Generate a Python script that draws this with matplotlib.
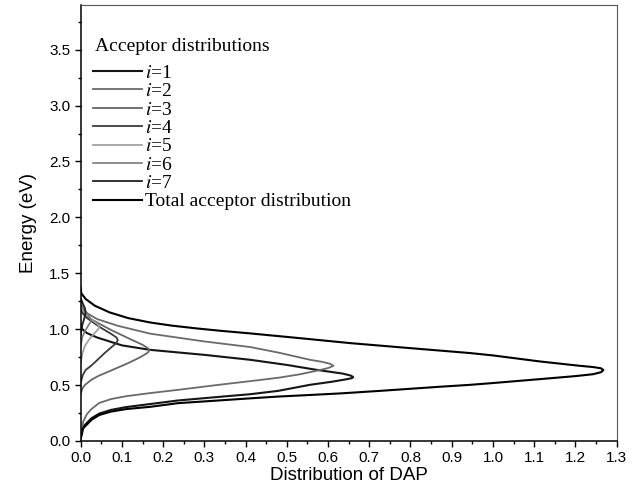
import matplotlib
matplotlib.use("Agg")
import matplotlib.pyplot as plt
from matplotlib.ticker import MultipleLocator, FormatStrFormatter

plt.rcParams['font.family'] = ['Liberation Sans', 'DejaVu Sans']
plt.rcParams['mathtext.fontset'] = 'stix'

# ---- data ----
legend_title = 'Acceptor distributions'
labels = ['$i$=1', '$i$=2', '$i$=3', '$i$=4', '$i$=5', '$i$=6', '$i$=7',
          'Total acceptor distribution']

# each curve: distribution values (x) and energies (y, eV)
i1_x = [0.0, 0.002, 0.006, 0.026, 0.045, 0.074, 0.110, 0.168, 0.236, 0.338, 0.411, 0.479,
        0.556, 0.610, 0.645, 0.658, 0.661, 0.655, 0.635, 0.572, 0.500, 0.411, 0.300,
        0.168, 0.100, 0.040, 0.015, 0.004, 0.0]
i1_E = [0.03, 0.07, 0.128, 0.203, 0.245, 0.278, 0.303, 0.330, 0.362, 0.395, 0.418, 0.448,
        0.502, 0.530, 0.552, 0.562, 0.571, 0.585, 0.603, 0.636, 0.680, 0.726, 0.770,
        0.815, 0.855, 0.925, 0.965, 1.000, 1.04]

i2_x = [0.0, 0.002, 0.006, 0.015, 0.026, 0.045, 0.074, 0.110, 0.168, 0.236, 0.330, 0.411,
        0.479, 0.530, 0.575, 0.600, 0.613, 0.605, 0.585, 0.556, 0.480, 0.411, 0.300,
        0.168, 0.090, 0.040, 0.012, 0.0]
i2_E = [0.04, 0.09, 0.173, 0.240, 0.285, 0.340, 0.375, 0.400, 0.428, 0.457, 0.500, 0.535,
        0.565, 0.595, 0.630, 0.652, 0.672, 0.690, 0.708, 0.726, 0.790, 0.840, 0.890,
        0.960, 1.030, 1.090, 1.150, 1.20]

i3_x = [0.0, 0.004, 0.010, 0.025, 0.042, 0.080, 0.115, 0.145, 0.162, 0.167, 0.163, 0.150,
        0.115, 0.075, 0.042, 0.020, 0.008, 0.0]
i3_E = [0.42, 0.470, 0.500, 0.545, 0.580, 0.640, 0.696, 0.750, 0.788, 0.810, 0.830, 0.860,
        0.920, 0.990, 1.055, 1.100, 1.140, 1.22]

i4_x = [0.0, 0.005, 0.012, 0.026, 0.042, 0.058, 0.075, 0.086, 0.090, 0.087, 0.075, 0.050,
        0.030, 0.015, 0.005, 0.0]
i4_E = [0.52, 0.590, 0.635, 0.675, 0.730, 0.786, 0.840, 0.875, 0.900, 0.925, 0.955, 1.010,
        1.060, 1.100, 1.140, 1.18]

i5_x = [0.0, 0.004, 0.010, 0.020, 0.030, 0.040, 0.045, 0.042, 0.030, 0.015, 0.005, 0.0]
i5_E = [0.70, 0.780, 0.850, 0.905, 0.950, 0.990, 1.015, 1.040, 1.075, 1.125, 1.165, 1.20]

i6_x = [0.0, 0.004, 0.010, 0.018, 0.024, 0.025, 0.020, 0.010, 0.0]
i6_E = [0.85, 0.930, 0.980, 1.030, 1.065, 1.085, 1.120, 1.170, 1.23]

i7_x = [0.0, 0.004, 0.009, 0.012, 0.010, 0.005, 0.0]
i7_E = [0.95, 1.040, 1.100, 1.150, 1.190, 1.230, 1.28]

tot_x = [0.0, 0.002, 0.006, 0.026, 0.045, 0.074, 0.110, 0.168, 0.236, 0.338, 0.411, 0.479,
         0.550, 0.629, 0.726, 0.872, 0.945, 1.000, 1.114, 1.200, 1.243, 1.262, 1.268,
         1.262, 1.243, 1.211, 1.114, 1.000, 0.945, 0.800, 0.654, 0.530, 0.411, 0.340,
         0.280, 0.220, 0.168, 0.115, 0.070, 0.034, 0.012, 0.0015, 0.0]
tot_E = [0.02, 0.05, 0.113, 0.188, 0.232, 0.263, 0.285, 0.305, 0.338, 0.363, 0.381, 0.397,
         0.410, 0.425, 0.448, 0.485, 0.502, 0.518, 0.553, 0.580, 0.597, 0.615, 0.634,
         0.650, 0.661, 0.672, 0.711, 0.765, 0.786, 0.830, 0.875, 0.920, 0.962, 0.985,
         1.007, 1.032, 1.060, 1.099, 1.150, 1.210, 1.270, 1.320, 1.37]

curves_x = [i1_x, i2_x, i3_x, i4_x, i5_x, i6_x, i7_x, tot_x]
curves_E = [i1_E, i2_E, i3_E, i4_E, i5_E, i6_E, i7_E, tot_E]

colors = ['#151515', '#6a6a6a', '#666666', '#3a3a3a', '#9a9a9a', '#7a7a7a', '#202020', '#000000']
widths = [1.5, 1.3, 1.3, 1.3, 1.2, 1.2, 1.3, 1.5]

fig = plt.figure(figsize=(6.37, 4.96), dpi=100)
ax = fig.add_axes([0.1267, 0.111, 0.8413, 0.879])

for xs, es, c, w, lab in zip(curves_x, curves_E, colors, widths, labels):
    ax.plot(xs, es, color=c, lw=w, label=lab, solid_joinstyle='round')

ax.set_xlim(0, 1.3)
ax.set_ylim(0, 3.9)
ax.xaxis.set_major_locator(MultipleLocator(0.1))
ax.xaxis.set_minor_locator(MultipleLocator(0.05))
ax.yaxis.set_major_locator(MultipleLocator(0.5))
ax.yaxis.set_minor_locator(MultipleLocator(0.25))
ax.xaxis.set_major_formatter(FormatStrFormatter('%.1f'))
ax.yaxis.set_major_formatter(FormatStrFormatter('%.1f'))
ax.tick_params(which='major', direction='out', length=4.5, width=1.0, labelsize=11, pad=3)
ax.tick_params(which='minor', direction='out', length=2.5, width=1.0)
ax.tick_params(top=False, right=False)

for s in ['left', 'bottom']:
    ax.spines[s].set_linewidth(1.1)
for s in ['top', 'right']:
    ax.spines[s].set_linewidth(0.8)
    ax.spines[s].set_color('#555555')

ax.set_xlabel('Distribution of DAP', fontsize=13.5, labelpad=1)
ax.set_ylabel('Energy (eV)', fontsize=13.5, labelpad=9)

ax.text(0.0267, 0.9044, legend_title, transform=ax.transAxes, ha='left', va='center',
        family='Liberation Serif', fontsize=14)

leg = ax.legend(loc='upper left', bbox_to_anchor=(0.009, 0.8817), frameon=False,
                prop={'family': 'Liberation Serif', 'size': 14},
                handlelength=2.5, handletextpad=0.17, labelspacing=0.038,
                borderaxespad=0.0)

fig.savefig('out.png', dpi=100)
